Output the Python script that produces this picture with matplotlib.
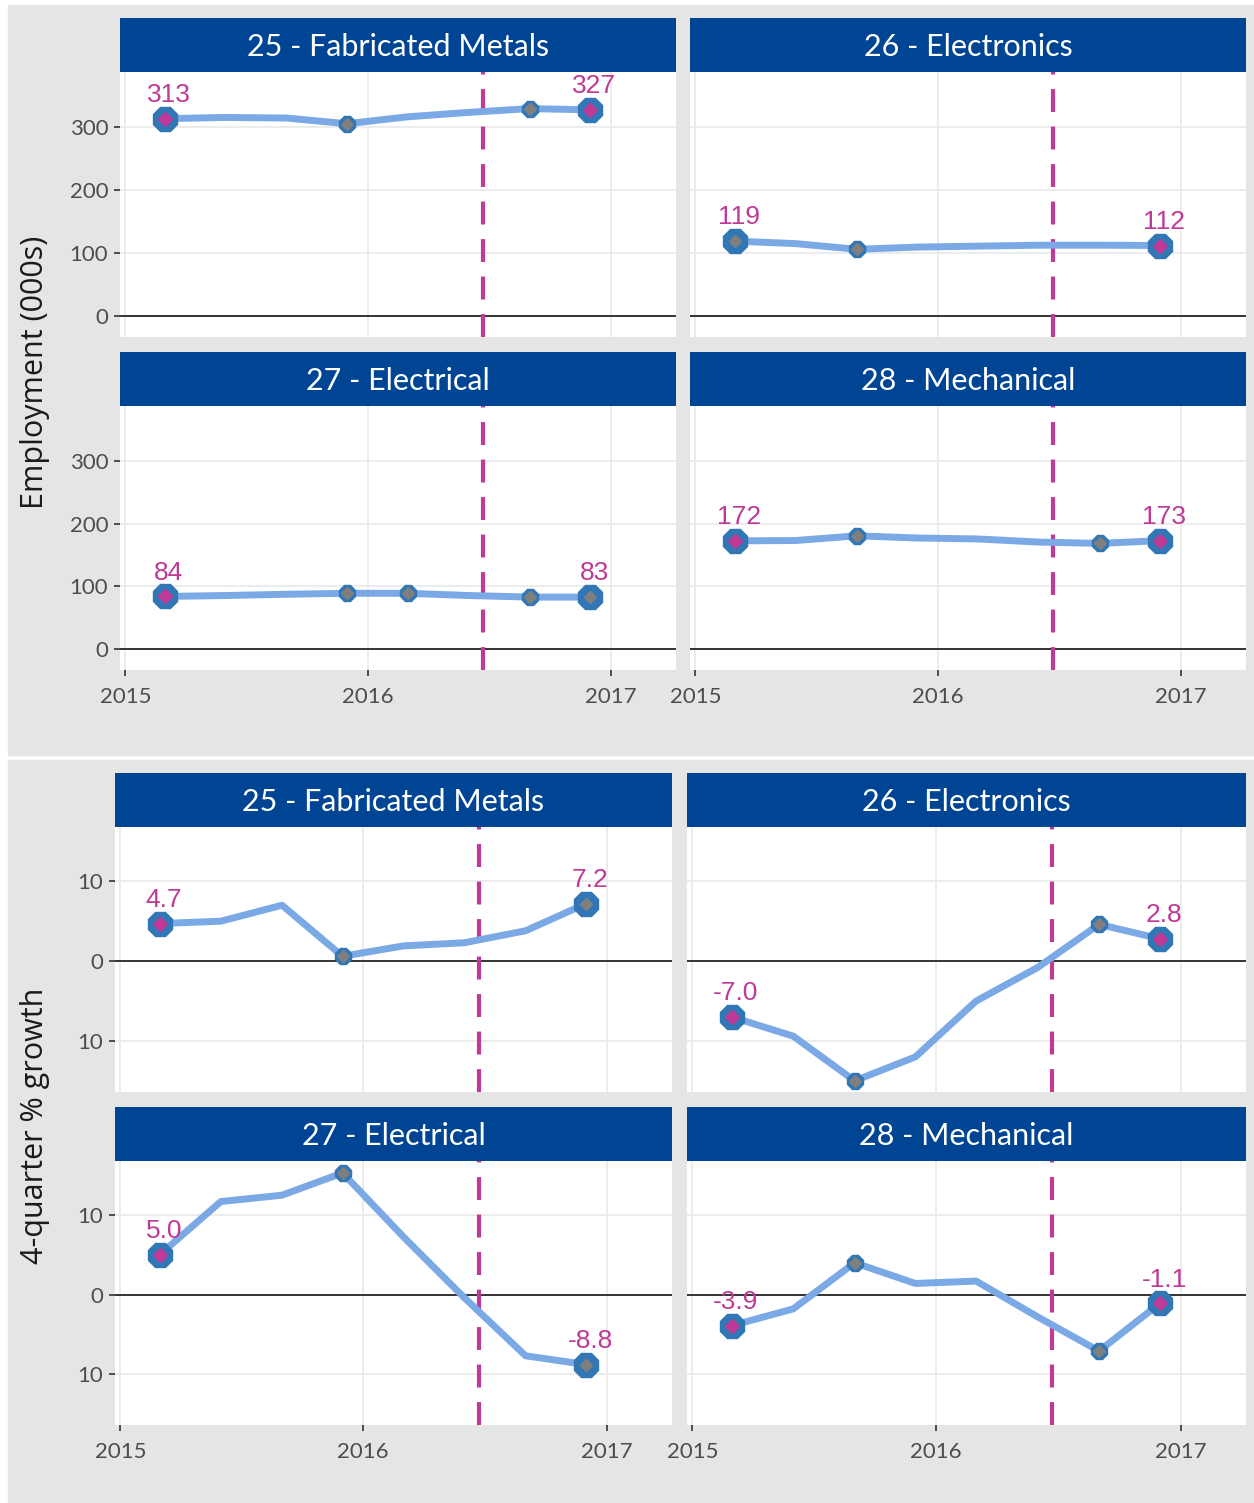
import matplotlib
matplotlib.use("Agg")
import matplotlib.pyplot as plt
import numpy as np
import pandas as pd
from matplotlib.patches import Rectangle

# quarterly observations, Mar 2015 - Dec 2016
quarters = pd.to_datetime(['2015-03-01', '2015-06-01', '2015-09-01', '2015-12-01',
                           '2016-03-01', '2016-06-01', '2016-09-01', '2016-12-01'])
brexit_date = pd.Timestamp('2016-06-23')
year_ticks = pd.to_datetime(['2015-01-01', '2016-01-01', '2017-01-01'])
year_labels = ['2015', '2016', '2017']

sectors = ['25 - Fabricated Metals', '26 - Electronics', '27 - Electrical', '28 - Mechanical']

# employment, thousands
emp_fab_metals = [313, 315, 314, 305, 316, 323, 329, 327]
emp_electronics = [119, 115, 106, 109.5, 111, 112.5, 112.5, 112]
emp_electrical = [84, 85.5, 87.5, 89, 89, 85.5, 83, 83]
emp_mechanical = [172.4, 173, 180.5, 177, 175.5, 170.5, 168.4, 172.8]

# 4-quarter % growth
gr_fab_metals = [4.7, 5.0, 7.0, 0.6, 1.9, 2.3, 3.8, 7.2]
gr_electronics = [-7.0, -9.4, -15.0, -12.0, -5.0, -0.8, 4.6, 2.8]
gr_electrical = [5.0, 11.7, 12.5, 15.3, 7.3, -0.4, -7.7, -8.8]
gr_mechanical = [-3.9, -1.8, 4.0, 1.4, 1.7, -2.8, -7.1, -1.1]

emp_ticks = [0, 100, 200, 300]
emp_tick_labels = ['0', '100', '200', '300']
gr_ticks = [-10, 0, 10]
gr_tick_labels = ['10', '0', '10']   # minus sign is not rendered in the original

W, H = 1254, 1503
BG = '#E5E5E5'
STRIP = '#004494'
LINE = '#7BA9E5'
DOT = '#3177B6'
MAGENTA = '#BE3A96'
GREY_DOT = '#7F7F7F'

plt.rcParams['font.family'] = 'Lato'

fig = plt.figure(figsize=(W / 100, H / 100), dpi=100)
fig.patch.set_facecolor('white')


def box(x0, y0, x1, y1):
    return [x0 / W, 1 - y1 / H, (x1 - x0) / W, (y1 - y0) / H]


fig.patches.append(Rectangle((8 / W, 1 - 755 / H), 1 - 8 / W, 750 / H,
                             transform=fig.transFigure, color=BG, zorder=-10))
fig.patches.append(Rectangle((8 / W, 0), 1 - 8 / W, 1 - 760 / H,
                             transform=fig.transFigure, color=BG, zorder=-10))


def draw_panel(rect, strip_rect, title, values, ylim, ticks, tick_labels, fmt,
               show_y, show_x):
    ax = fig.add_axes(box(*rect))
    sax = fig.add_axes(box(*strip_rect))
    sax.set_facecolor(STRIP)
    sax.set_xticks([])
    sax.set_yticks([])
    for s in sax.spines.values():
        s.set_visible(False)
    sax.text(0.5, 0.47, title, color='white', fontsize=22, ha='center', va='center',
             transform=sax.transAxes)

    vals = np.array(values, dtype=float)
    ax.set_facecolor('white')
    for s in ax.spines.values():
        s.set_visible(False)
    ax.set_xlim(pd.Timestamp('2014-12-24'), pd.Timestamp('2017-04-09'))
    ax.set_ylim(*ylim)
    ax.set_xticks(year_ticks)
    ax.set_yticks(ticks)
    ax.grid(True, color='#EBEBEB', lw=1.3)
    ax.set_axisbelow(True)
    ax.tick_params(length=4.5, width=1.2, color='#333333', labelcolor='#4D4D4D',
                   labelsize=16, pad=4)
    ax.tick_params(axis='x', pad=8)
    if show_y:
        ax.set_yticklabels(tick_labels)
    else:
        ax.tick_params(axis='y', length=0, labelleft=False)
    if show_x:
        ax.set_xticklabels(year_labels)
    else:
        ax.tick_params(axis='x', length=0, labelbottom=False)

    ax.axhline(0, color='#333333', lw=1.4, zorder=1)
    ax.axvline(brexit_date, color=MAGENTA, lw=3, ls=(0, (5.5, 3.5)), zorder=2)
    ax.plot(quarters, vals, color=LINE, lw=5, zorder=3, solid_capstyle='butt')

    ext = np.isclose(vals, vals.max()) | np.isclose(vals, vals.min())
    ends = np.zeros(len(vals), dtype=bool)
    ends[[0, -1]] = True
    ax.plot(quarters[ends], vals[ends], ls='none', marker='8', ms=19, color=DOT, zorder=4)
    ax.plot(quarters[ext], vals[ext], ls='none', marker='8', ms=13, color=DOT, zorder=4)
    mag = ends & ~ext
    ax.plot(quarters[mag], vals[mag], ls='none', marker='D', ms=7, color=MAGENTA, zorder=5)
    ax.plot(quarters[ext], vals[ext], ls='none', marker='D', ms=6, color=GREY_DOT, zorder=5)

    for i in (0, len(vals) - 1):
        ax.annotate(fmt.format(vals[i]), (quarters[i], vals[i]), xytext=(3, 12),
                    textcoords='offset points', ha='center', va='baseline',
                    fontsize=19, color=MAGENTA, family='Liberation Sans', zorder=6)
    return ax


emp_series = [emp_fab_metals, emp_electronics, emp_electrical, emp_mechanical]
gr_series = [gr_fab_metals, gr_electronics, gr_electrical, gr_mechanical]

# top block: employment
cols = [(120, 676), (690, 1246)]
rows = [(72, 337), (406, 670)]
for k in range(4):
    r, c = divmod(k, 2)
    draw_panel((cols[c][0], rows[r][0], cols[c][1], rows[r][1]),
               (cols[c][0], rows[r][0] - 54, cols[c][1], rows[r][0]),
               sectors[k], emp_series[k], (-33, 387), emp_ticks, emp_tick_labels,
               '{:.0f}', c == 0, r == 1)

# bottom block: growth
cols = [(115, 672), (687, 1246)]
rows = [(827, 1092), (1161, 1425)]
for k in range(4):
    r, c = divmod(k, 2)
    draw_panel((cols[c][0], rows[r][0], cols[c][1], rows[r][1]),
               (cols[c][0], rows[r][0] - 54, cols[c][1], rows[r][0]),
               sectors[k], gr_series[k], (-16.4, 16.8), gr_ticks, gr_tick_labels,
               '{:.1f}', c == 0, r == 1)

fig.text(35 / W, 1 - 372 / H, 'Employment (000s)', rotation=90, ha='center', va='center',
         fontsize=22, color='#1A1A1A', family='Open Sans')
fig.text(35 / W, 1 - 1126 / H, '4-quarter % growth', rotation=90, ha='center', va='center',
         fontsize=22, color='#1A1A1A', family='Open Sans')

fig.savefig('out.png', dpi=100)
